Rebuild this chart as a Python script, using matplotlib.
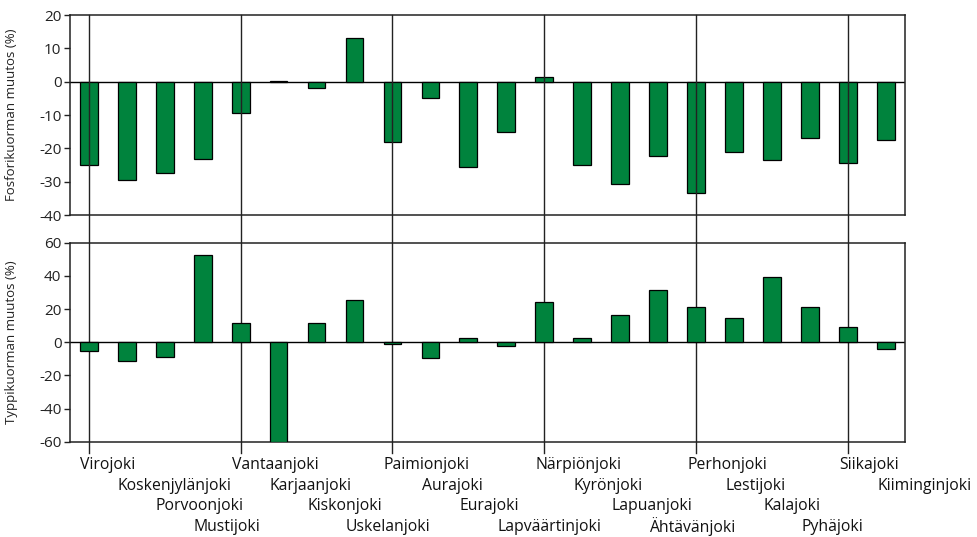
import matplotlib.pyplot as plt
from matplotlib.transforms import blended_transform_factory

plt.rcParams['font.family'] = ['Open Sans', 'DejaVu Sans']
plt.rcParams['axes.unicode_minus'] = False

joet = ['Virojoki', 'Koskenjylänjoki', 'Porvoonjoki', 'Mustijoki', 'Vantaanjoki',
        'Karjaanjoki', 'Kiskonjoki', 'Uskelanjoki', 'Paimionjoki', 'Aurajoki',
        'Eurajoki', 'Lapväärtinjoki', 'Närpiönjoki', 'Kyrönjoki', 'Lapuanjoki',
        'Ähtävänjoki', 'Perhonjoki', 'Lestijoki', 'Kalajoki', 'Pyhäjoki',
        'Siikajoki', 'Kiiminginjoki']
fosfori = [-25, -29.6, -27.5, -23.1, -9.5, 0.3, -2, 13.2, -18, -4.9, -25.5,
           -15, 1.5, -25, -30.8, -22.3, -33.5, -21.2, -23.5, -17, -24.5, -17.4]
typpi = [-5.4, -11.5, -8.8, 52.7, 11.6, -60, 11.6, 25.7, -1, -9.4, 2.8,
         -2, 24, 2.6, 16.4, 31.6, 21.4, 14.6, 39.2, 21.2, 9.2, -4]
erottimet = [0, 4, 8, 12, 16, 20]

vari = '#00833d'
x = list(range(len(joet)))

fig = plt.figure(figsize=(9.78, 5.37), dpi=100)
ax1 = fig.add_axes([0.0713, 0.5996, 0.8541, 0.3724])
ax2 = fig.add_axes([0.0713, 0.1775, 0.8541, 0.3705])

for ax, arvot, ylim, yt, nimi in [
        (ax1, fosfori, (-40, 20), range(-40, 21, 10), 'Fosforikuorman muutos (%)'),
        (ax2, typpi, (-60, 60), range(-60, 61, 20), 'Typpikuorman muutos (%)')]:
    ax.bar(x, arvot, width=0.47, color=vari, edgecolor='black', linewidth=0.9, zorder=3)
    ax.axhline(0, color='black', linewidth=1, zorder=2)
    ax.set_xlim(-0.5, 21.5)
    ax.set_ylim(*ylim)
    ax.set_yticks(list(yt))
    ax.set_xticks([])
    ax.tick_params(axis='y', direction='out', length=4, width=1, labelsize=11,
                   colors='#222222', pad=2)
    ax.set_ylabel(nimi, fontsize=9.5, color='#222222')
    ax.yaxis.set_label_coords(-0.062, 0.5)
    for s in ax.spines.values():
        s.set_linewidth(1.1)
        s.set_color('#222222')

# pystyviivat jokiryhmien välille kummankin kuvaajan läpi
tr = blended_transform_factory(ax2.transData, fig.transFigure)
for i in erottimet:
    ax2.plot([i, i], [1 - 453 / 537, 0.972], color='#222222', linewidth=1,
             transform=tr, clip_on=False, zorder=1)

# jokien nimet neljään porrastettuun riviin
rivit = [465, 486, 506, 527]
for i, nimi in enumerate(joet):
    ax2.text(i - 0.235, 1 - rivit[i % 4] / 537, nimi, transform=tr,
             ha='left', va='center', fontsize=11.3, color='#111111')

fig.savefig('out.png', dpi=100)
